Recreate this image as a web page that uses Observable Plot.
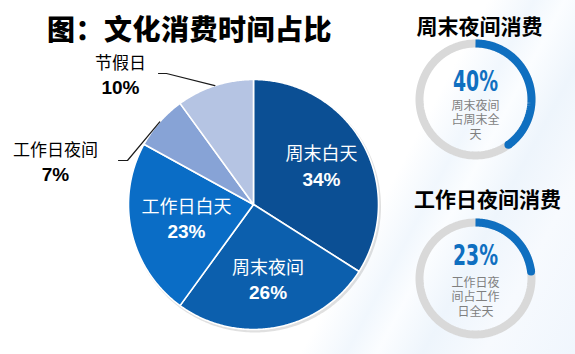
<!DOCTYPE html>
<html>
<head>
<meta charset="utf-8">
<script src="https://cdn.jsdelivr.net/npm/d3@7"></script>
<script src="https://cdn.jsdelivr.net/npm/@observablehq/plot@0.6"></script>
<style>
  html, body { margin: 0; padding: 0; background: #fff; }
  #wrap {
    position: relative; width: 575px; height: 354px; overflow: hidden;
    background: linear-gradient(118deg, #ffffff 0%, #ffffff 64%, #f1f7fd 70%, #fbfdff 74%, #eef5fc 80%, #f7fafe 88%, #f0f6fd 100%);
    font-family: "Noto Sans CJK SC", "Noto Sans", sans-serif;
  }
  #title {
    position: absolute; left: 47px; top: 8px; margin: 0;
    font-size: 28px; font-weight: 900; color: #000; letter-spacing: 0.5px;
    font-family: "Noto Sans CJK SC", sans-serif; line-height: 40px; white-space: nowrap;
  }
  #chart { position: absolute; left: 0; top: 0; }
  #chart svg { background: transparent; overflow: visible; }
</style>
</head>
<body>
<div id="wrap">
  <div id="chart"></div>
  <h1 id="title">图：文化消费时间占比</h1>
</div>
<script>
// ---- data ----
const categories = ["周末白天", "周末夜间", "工作日白天", "工作日夜间", "节假日"];
const shares = [34, 26, 23, 7, 10];
const shareLabels = ["34%", "26%", "23%", "7%", "10%"];
const sliceColors = ["#0b4f94", "#0c5fad", "#0a6dc6", "#87a3d6", "#b5c4e3"];

const gaugeTitles = ["周末夜间消费", "工作日夜间消费"];
const gaugeValues = [40, 23];
const gaugeValueLabels = ["40%", "23%"];
const gaugeNotes = ["周末夜间\n占周末全\n天", "工作日夜\n间占工作\n日全天"];

// ---- layout ----
const W = 575, H = 354;
const cx = 253, cy = 204, R = 125;          // pie centre / radius
const gaugeCentres = [[475, 99], [475, 278]];
const gaugeR = 56;
const gaugeBlue = "#0f6fc0";

const arcs = d3.pie().sort(null).value(d => d)(shares);

function arcPoints(x0, y0, r, a0, a1, n) {
  const pts = [];
  for (let k = 0; k <= n; k++) {
    const a = a0 + (a1 - a0) * k / n;
    pts.push({x: x0 + r * Math.sin(a), y: y0 - r * Math.cos(a)});
  }
  return pts;
}

// slices as closed polygons
const slicePolys = arcs.map((a, i) => {
  const n = Math.max(8, Math.ceil((a.endAngle - a.startAngle) / 0.01));
  return [{x: cx, y: cy}, ...arcPoints(cx, cy, R, a.startAngle, a.endAngle, n)]
    .map(p => ({...p, cat: categories[i]}));
});
// soft shadow disc behind the pie
const shadowPts = arcPoints(cx + 1.5, cy + 2, R + 1, 0, 2 * Math.PI, 360);

// inside labels (large slices)
const inside = arcs.map((a, i) => {
  const m = (a.startAngle + a.endAngle) / 2;
  const f = i === 2 ? 0.55 : 0.62;
  return {name: categories[i], pct: shareLabels[i], x: cx + f * R * Math.sin(m), y: cy - f * R * Math.cos(m), v: shares[i]};
}).filter(d => d.v >= 15);

// outside labels with leader lines (small slices); layout offsets in units of R
const outsideLayout = {
  3: {elbow: [-1.008, 0.352], end: [-1.08, 0.352], tx: -1.584, ty: 0.332},
  4: {elbow: [-0.696, 1.048], end: [-0.76, 1.048], tx: -1.064, ty: 1.032}
};
const leaders = [];
const outside = [];
arcs.forEach((a, i) => {
  const L = outsideLayout[i];
  if (!L) return;
  const m = (a.startAngle + a.endAngle) / 2;
  const pts = [
    {x: cx + R * Math.sin(m), y: cy - R * Math.cos(m)},
    {x: cx + L.elbow[0] * R, y: cy - L.elbow[1] * R},
    {x: cx + L.end[0] * R, y: cy - L.end[1] * R}
  ].map(p => ({...p, cat: categories[i]}));
  leaders.push(...pts);
  outside.push({name: categories[i], pct: shareLabels[i], x: cx + L.tx * R, y: cy - L.ty * R});
});

// gauges
const gaugeTracks = [], gaugeBars = [], gaugeEnds = [], gaugeText = [];
gaugeValues.forEach((v, g) => {
  const [gx, gy] = gaugeCentres[g];
  gaugeTracks.push(...arcPoints(gx, gy, gaugeR, 0, 2 * Math.PI, 180).map(p => ({...p, g})));
  const end = 2 * Math.PI * v / 100;
  const pts = arcPoints(gx, gy, gaugeR, 0, end, 90).map(p => ({...p, g}));
  gaugeBars.push(...pts);
  gaugeEnds.push(pts[pts.length - 1]);
  gaugeText.push({title: gaugeTitles[g], val: gaugeValueLabels[g], note: gaugeNotes[g], x: gx, y: gy, g});
});

const chart = Plot.plot({
  width: W, height: H,
  margin: 0,
  x: {domain: [0, W], axis: null},
  y: {domain: [0, H], reverse: true, axis: null},
  style: {background: "transparent", overflow: "visible"},
  marks: [
    // pie
    Plot.line(shadowPts, {x: "x", y: "y", curve: "linear-closed", fill: "#000", fillOpacity: 0.12, stroke: "none"}),
    ...slicePolys.map((poly, i) => Plot.line(poly, {
      x: "x", y: "y", curve: "linear-closed",
      fill: sliceColors[i], stroke: "#ffffff", strokeWidth: 1.6, strokeLinejoin: "round"
    })),
    Plot.text(inside, {x: "x", y: d => d.y - 12.5, text: "name", fill: "#fff", fontSize: 18,
      fontFamily: "Noto Sans CJK SC", fontWeight: 400}),
    Plot.text(inside, {x: "x", y: d => d.y + 12.5, text: "pct", fill: "#fff", fontSize: 19,
      fontFamily: "Liberation Sans, Arial, sans-serif", fontWeight: 700}),
    Plot.line(leaders, {x: "x", y: "y", z: "cat", stroke: "#1a1a1a", strokeWidth: 1.2}),
    Plot.text(outside, {x: "x", y: d => d.y - 12, text: "name", fill: "#000", fontSize: 17,
      fontFamily: "Noto Sans CJK SC", fontWeight: 400}),
    Plot.text(outside, {x: "x", y: d => d.y + 12, text: "pct", fill: "#000", fontSize: 19,
      fontFamily: "Liberation Sans, Arial, sans-serif", fontWeight: 700}),
    // gauges
    Plot.line(gaugeTracks, {x: "x", y: "y", z: "g", stroke: "#d9d9d9", strokeWidth: 8}),
    Plot.line(gaugeBars, {x: "x", y: "y", z: "g", stroke: gaugeBlue, strokeWidth: 8, strokeLinecap: "butt"}),
    Plot.dot(gaugeEnds, {x: "x", y: "y", r: 4, fill: gaugeBlue}),
    Plot.text(gaugeText, {x: d => d.x + (d.g === 0 ? 4 : 12), y: d => d.g === 0 ? 27 : 200, text: "title",
      fill: "#000", fontSize: 21, fontWeight: 700, fontFamily: "Noto Sans CJK SC"}),
    Plot.text(gaugeText, {x: "x", y: d => d.y - (d.g === 0 ? 17 : 22), text: "val",
      fill: gaugeBlue, fontSize: 28, fontWeight: 700,
      fontFamily: "'DejaVu Sans Condensed', 'DejaVu Sans', sans-serif"}),
    Plot.text(gaugeText, {x: "x", y: d => d.y + (d.g === 0 ? 20 : 18), text: "note",
      fill: "#7f7f7f", fontSize: 12, lineHeight: 1.2, fontFamily: "Noto Sans CJK SC"})
  ]
});
// condense the percentage numerals like the reference's narrow face
chart.querySelectorAll("text").forEach(t => {
  const g = t.closest("g");
  const fill = (g && g.getAttribute("fill")) || t.getAttribute("fill");
  if (fill === gaugeBlue && gaugeValueLabels.includes(t.textContent)) {
    t.setAttribute("textLength", "45");
    t.setAttribute("lengthAdjust", "spacingAndGlyphs");
  }
});
document.getElementById("chart").appendChild(chart);
</script>
</body>
</html>
